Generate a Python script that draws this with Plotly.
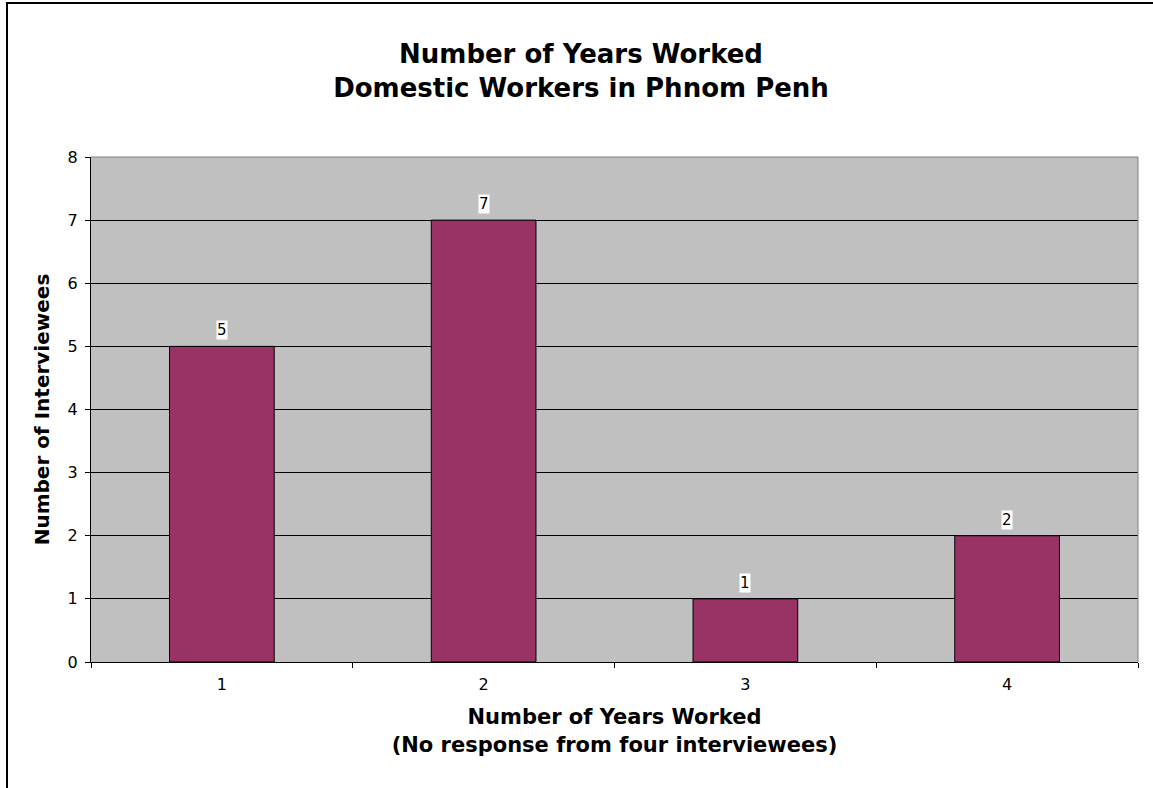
import plotly.graph_objects as go

# Survey counts: years worked by domestic workers in Phnom Penh
years = ["1", "2", "3", "4"]
interviewees = [5, 7, 1, 2]
y_ticks = [0, 1, 2, 3, 4, 5, 6, 7, 8]

W, H = 1153, 788
L, R, T, B = 91, 15, 157, 126
pw, ph = W - L - R, H - T - B

FONT = "DejaVu Sans, Arial, sans-serif"

fig = go.Figure(
    go.Bar(
        x=years,
        y=interviewees,
        width=0.4,
        marker=dict(color="#993366", line=dict(color="black", width=1)),
        hoverinfo="x+y",
    )
)

# value labels on white boxes above each bar (category axis positions are indices)
for i, val in enumerate(interviewees):
    fig.add_annotation(
        x=i, y=val, xref="x", yref="y",
        text=str(val), showarrow=False, yshift=16,
        bgcolor="white", borderpad=0,
        font=dict(family=FONT, size=15, color="black"),
    )

def px_x(p):
    return (p - L) / pw

def px_y(p):
    return (H - B - p) / ph

shapes = [
    # gray edges of the plot area (top and right)
    dict(type="line", xref="paper", yref="paper", x0=0, x1=1, y0=1, y1=1,
         line=dict(color="#808080", width=1), layer="above"),
    dict(type="line", xref="paper", yref="paper", x0=1, x1=1, y0=0, y1=1,
         line=dict(color="#808080", width=1), layer="above"),
    # chart frame
    dict(type="rect", xref="paper", yref="paper",
         x0=px_x(7), x1=px_x(1200), y0=px_y(840), y1=px_y(3),
         line=dict(color="black", width=2), fillcolor="rgba(0,0,0,0)"),
]

fig.update_layout(
    width=W, height=H,
    margin=dict(l=L, r=R, t=T, b=B),
    paper_bgcolor="white",
    plot_bgcolor="#C0C0C0",
    showlegend=False,
    font=dict(family=FONT, color="black"),
    shapes=shapes,
    title=dict(
        text="<b>Number of Years Worked<br>Domestic Workers in Phnom Penh</b>",
        x=581 / W, xanchor="center",
        y=1 - 63 / H, yanchor="middle",
        font=dict(family=FONT, size=26, color="black"),
    ),
    xaxis=dict(
        type="category",
        range=[-0.5, len(years) - 0.5],
        tickson="boundaries",
        ticks="outside", ticklen=5, tickcolor="black", tickwidth=1,
        ticklabelstandoff=8,
        showline=True, linecolor="black", linewidth=1,
        showgrid=False,
        tickfont=dict(family=FONT, size=16, color="black"),
        title=dict(
            text="<b>Number of Years Worked<br>(No response from four interviewees)</b>",
            font=dict(family=FONT, size=21, color="black"),
            standoff=16,
        ),
    ),
    yaxis=dict(
        range=[0, 8],
        tickvals=y_ticks,
        ticks="outside", ticklen=5, tickcolor="black", tickwidth=1,
        ticklabelstandoff=4,
        showline=True, linecolor="black", linewidth=1,
        showgrid=True, gridcolor="black", gridwidth=1,
        zeroline=False,
        tickfont=dict(family=FONT, size=16, color="black"),
        title=dict(
            text="<b>Number of Interviewees</b>",
            font=dict(family=FONT, size=20, color="black"),
            standoff=12,
        ),
    ),
)

fig.write_html("out.html")
